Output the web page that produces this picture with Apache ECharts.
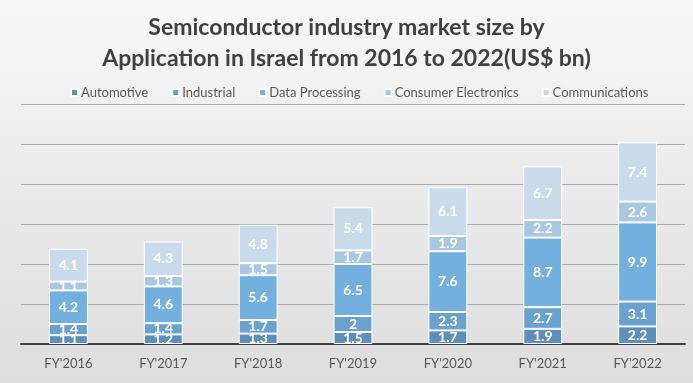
<!DOCTYPE html>
<html><head><meta charset="utf-8">
<script src="https://cdn.jsdelivr.net/npm/echarts@6/dist/echarts.min.js"></script>
<style>html,body{margin:0;padding:0;}#c{width:693px;height:383px;}</style>
</head><body><div id="c"></div>
<script>
const categories = ["FY'2016","FY'2017","FY'2018","FY'2019","FY'2020","FY'2021","FY'2022"];
const seriesNames = ["Automotive","Industrial","Data Processing","Consumer Electronics","Communications"];
const automotive = [1.1,1.2,1.3,1.5,1.7,1.9,2.2];
const industrial = [1.4,1.4,1.7,2,2.3,2.7,3.1];
const dataProcessing = [4.2,4.6,5.6,6.5,7.6,8.7,9.9];
const consumerElectronics = [1.1,1.3,1.5,1.7,1.9,2.2,2.6];
const communications = [4.1,4.3,4.8,5.4,6.1,6.7,7.4];
const colors = ["#5d8fba","#6aa1cd","#74b0de","#a9c7e1","#c9dbeb"];
const values = [automotive,industrial,dataProcessing,consumerElectronics,communications];

const chart = echarts.init(document.getElementById('c'));
const font = "Lato, 'Open Sans', sans-serif";
chart.setOption({
  backgroundColor: {type:'linear',x:0,y:0,x2:0,y2:1,colorStops:[{offset:0,color:'#f7f7f7'},{offset:1,color:'#dddddd'}]},
  animation:false,
  title:{text:'Semiconductor industry market size by\nApplication in Israel from 2016 to 2022(US$ bn)',left:'center',top:7,
    textStyle:{fontFamily:font,fontSize:23,fontWeight:'bold',color:'#404040',lineHeight:31}},
  legend:{top:81,left:65,itemWidth:7,itemHeight:7,itemGap:23,icon:'rect',
    textStyle:{fontFamily:font,fontSize:13,color:'#595959',padding:[0,0,0,-2]},data:seriesNames},
  grid:{left:21,right:8,top:104,bottom:39},
  xAxis:{type:'category',data:categories,axisTick:{show:false},
    axisLine:{lineStyle:{color:'#404040',width:2}},
    axisLabel:{fontFamily:font,fontSize:13,color:'#595959',margin:13}},
  yAxis:{type:'value',min:0,max:30,interval:5,axisLabel:{show:false},axisLine:{show:false},axisTick:{show:false},
    splitLine:{lineStyle:{color:'#ababab',width:1}}},
  series: seriesNames.map((n,i)=>({
    name:n,type:'bar',stack:'all',barWidth:'41%',data:values[i],
    itemStyle:{color:colors[i],borderColor:'#ffffff',borderWidth:1},
    label:{show:true,position:'inside',color:'#ffffff',fontFamily:font,fontWeight:'bold',fontSize:14}
  }))
});
</script></body></html>
